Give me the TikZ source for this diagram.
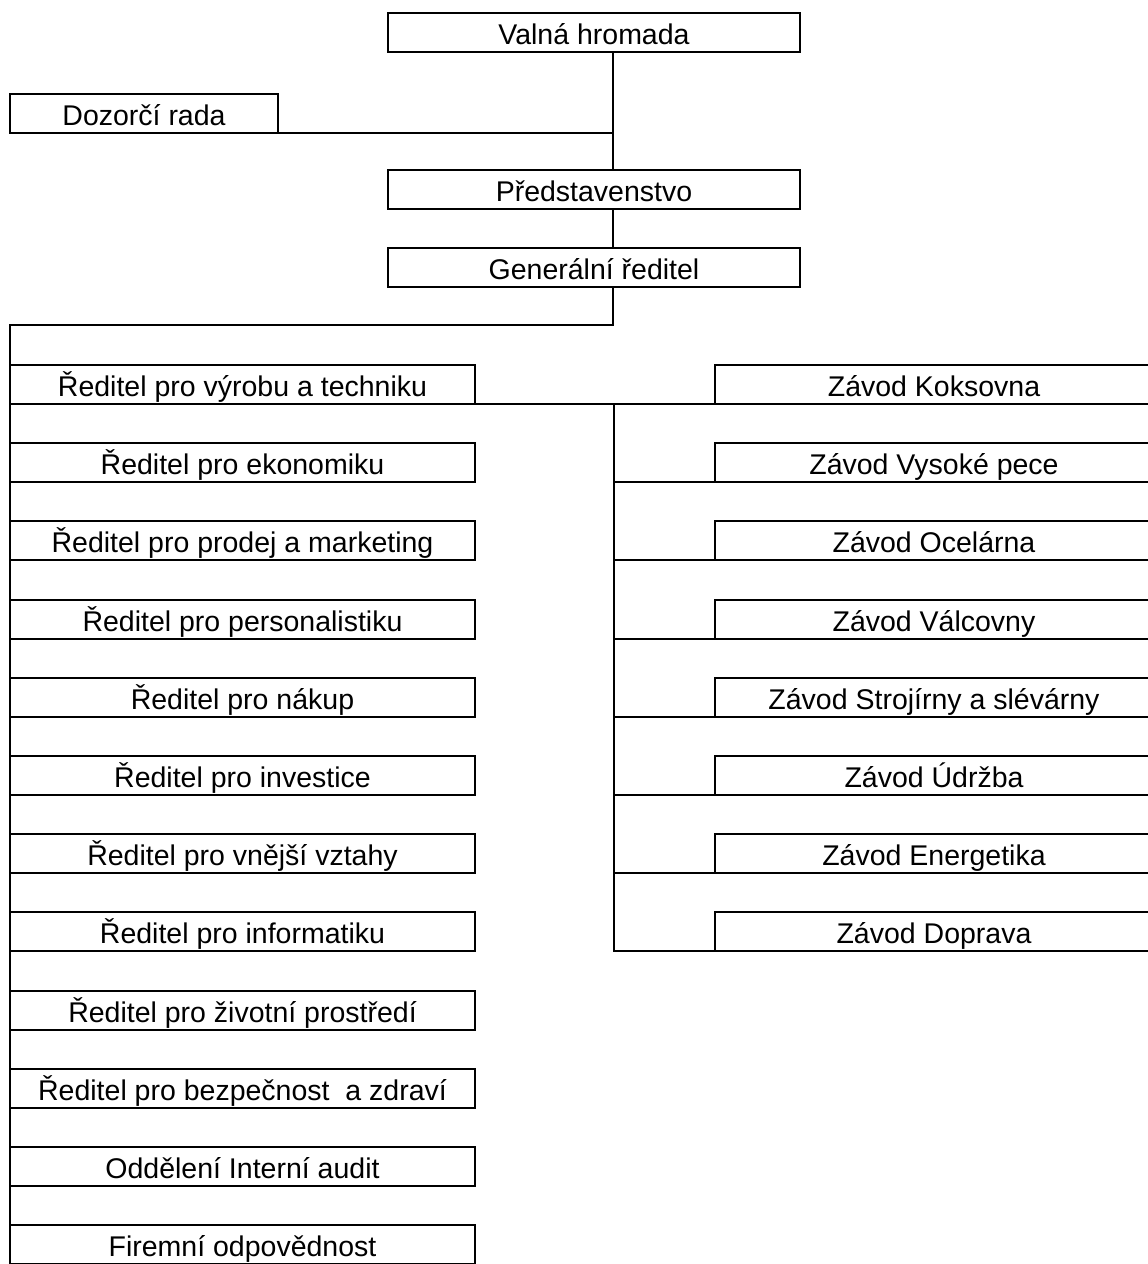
\documentclass[tikz,border=0pt]{standalone}
\usepackage{fontspec}
\setmainfont{Liberation Sans}
\begin{document}
\begin{tikzpicture}[x=1pt, y=-1pt, line width=1.9pt,
		box/.style={draw, anchor=north west, inner sep=0pt, outer sep=0pt,
			minimum height=39pt, text height=29.5pt, text depth=5.5pt,
			font=\fontsize{28.5}{34}\selectfont},
		topbox/.style={box, minimum width=412pt},
		leftbox/.style={box, minimum width=465pt},
		rightbox/.style={box, minimum width=438pt}]
				\useasboundingbox (0,0) rectangle (1148,1264);
				\fill[white] (0,0) rectangle (1148,1264);
				\clip (0,0) rectangle (1148,1264);
				% vedeni
				\draw (388,13) node[topbox] (valna) {Valná hromada};
				\draw (10,94) node[box, minimum width=268pt] (dozor) {Dozorčí rada};
				\draw (388,170) node[topbox] (pred) {Představenstvo};
				\draw (388,248) node[topbox] (gen) {Generální ředitel};
				% reditele
				\draw (10,365) node[leftbox] (l1) {Ředitel pro výrobu a techniku};
				\draw (10,443.2) node[leftbox] (l2) {Ředitel pro ekonomiku};
				\draw (10,521.4) node[leftbox] (l3) {Ředitel pro prodej a marketing};
				\draw (10,599.6) node[leftbox] (l4) {Ředitel pro personalistiku};
				\draw (10,677.8) node[leftbox] (l5) {Ředitel pro nákup};
				\draw (10,756) node[leftbox] (l6) {Ředitel pro investice};
				\draw (10,834.2) node[leftbox] (l7) {Ředitel pro vnější vztahy};
				\draw (10,912.4) node[leftbox] (l8) {Ředitel pro informatiku};
				\draw (10,990.6) node[leftbox] (l9) {Ředitel pro životní prostředí};
				\draw (10,1068.8) node[leftbox] (l10) {Ředitel pro bezpečnost\ \ a zdraví};
				\draw (10,1147) node[leftbox] (l11) {Oddělení Interní audit};
				\draw (10,1225.2) node[leftbox] (l12) {Firemní odpovědnost};
				% zavody
				\draw (715,365) node[rightbox] (r1) {Závod Koksovna};
				\draw (715,443.2) node[rightbox] (r2) {Závod Vysoké pece};
				\draw (715,521.4) node[rightbox] (r3) {Závod Ocelárna};
				\draw (715,599.6) node[rightbox] (r4) {Závod Válcovny};
				\draw (715,677.8) node[rightbox] (r5) {Závod Strojírny a slévárny};
				\draw (715,756) node[rightbox] (r6) {Závod Údržba};
				\draw (715,834.2) node[rightbox] (r7) {Závod Energetika};
				\draw (715,912.4) node[rightbox] (r8) {Závod Doprava};
				% spojnice
				\coordinate (t) at (613,0);
				\coordinate (k) at (10,325);
				\coordinate (s) at (614,404);
				\draw (valna.south -| t) -- (pred.north -| t);
				\draw (dozor.south east) -- (dozor.south east -| t);
				\draw (pred.south -| t) -- (gen.north -| t);
				\draw (gen.south -| t) |- (k) -- (l12.south west);
				\draw (l1.south east) -- (r1.south west);
				\draw (s) |- (r8.south west);
				\draw (s |- r2.south) -- (r2.south west);
				\draw (s |- r3.south) -- (r3.south west);
				\draw (s |- r4.south) -- (r4.south west);
				\draw (s |- r5.south) -- (r5.south west);
				\draw (s |- r6.south) -- (r6.south west);
				\draw (s |- r7.south) -- (r7.south west);
			\end{tikzpicture}
\end{document}
